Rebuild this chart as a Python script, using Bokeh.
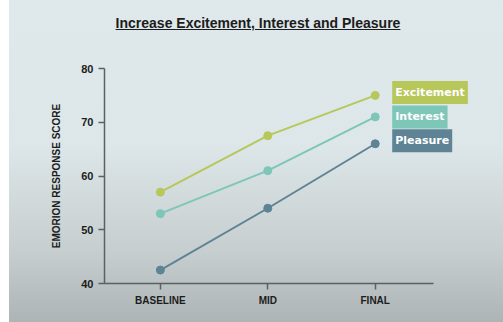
from bokeh.plotting import figure
from bokeh.models import Range1d, FixedTicker, Label, Div
from bokeh.layouts import column
from bokeh.embed import file_html
from bokeh.resources import INLINE

categories = ["BASELINE", "MID", "FINAL"]
excitement = [57.0, 67.5, 75.0]
interest = [53.0, 61.0, 71.0]
pleasure = [42.5, 54.0, 66.0]
series_names = ["Excitement", "Interest", "Pleasure"]
series_colors = ["#b7c75a", "#7dc6b8", "#5e8395"]
y_ticks = [40, 50, 60, 70, 80]

xs = list(range(len(categories)))

title = Div(
    text='<div style="width:503px;height:45px;box-sizing:border-box;margin:0;'
         'font-family:\'Liberation Sans\',Arial,sans-serif;font-weight:bold;'
         'font-size:14px;color:#1c1c1c;text-align:center;text-decoration:underline;'
         'padding-top:15px;padding-left:13px;line-height:16px;">'
         'Increase Excitement, Interest and Pleasure</div>',
    width=503, height=45, styles={"margin": "0", "padding": "0", "overflow": "hidden"},
)

p = figure(width=503, height=277, output_backend="svg", toolbar_location=None,
           x_range=Range1d(-0.52, 2.98), y_range=Range1d(40, 80),
           min_border_left=104, min_border_right=23, min_border_top=23, min_border_bottom=39)
p.border_fill_color = None
p.background_fill_color = None
p.outline_line_color = None
p.xgrid.visible = False
p.ygrid.visible = False

for vals, name, col in zip([excitement, interest, pleasure], series_names, series_colors):
    p.line(xs, vals, line_color=col, line_width=2)
    p.scatter(xs, vals, size=8, fill_color=col, line_color=col)

label_offsets = [3, 0, 3]
for vals, name, col, dy in zip([excitement, interest, pleasure], series_names, series_colors, label_offsets):
    lab = Label(x=xs[-1], y=vals[-1], text=name, x_offset=17, y_offset=dy,
                text_font="DejaVu Sans", text_font_style="bold", text_font_size="11px",
                text_color="white", text_baseline="middle", text_align="left",
                background_fill_color=col, padding=(3, 5))
    p.add_layout(lab)

p.xaxis.ticker = FixedTicker(ticks=xs)
p.xaxis.bounds = (-0.52, 2.54)
p.xaxis.major_label_overrides = {i: c for i, c in enumerate(categories)}
p.yaxis.ticker = FixedTicker(ticks=y_ticks)
p.xaxis.minor_tick_line_color = None
p.yaxis.minor_tick_line_color = None
for ax in (p.xaxis, p.yaxis):
    ax.axis_line_color = "#5a6163"
    ax.axis_line_width = 1.5
    ax.major_tick_line_color = "#5a6163"
    ax.major_tick_line_width = 1.5
    ax.major_tick_in = 0
    ax.major_label_text_font = "Liberation Sans"
    ax.major_label_text_font_style = "bold"
    ax.major_label_text_color = "#1c1c1c"
p.xaxis.major_tick_out = 6
p.yaxis.major_tick_out = 6
p.xaxis.major_label_text_font_size = "10px"
p.yaxis.major_label_text_font_size = "11px"
p.xaxis.major_label_standoff = 5
p.yaxis.major_label_standoff = 5
p.yaxis.axis_label = "EMORION RESPONSE SCORE"
p.yaxis.axis_label_text_font = "Liberation Sans"
p.yaxis.axis_label_text_font_style = "bold"
p.yaxis.axis_label_text_font_size = "10px"
p.yaxis.axis_label_text_color = "#1c1c1c"
p.yaxis.axis_label_standoff = 16

layout = column(title, p, width=503, height=322, spacing=0)
layout.styles = {
    "background": "linear-gradient(to right, #ffffff 9px, rgba(255,255,255,0) 9px), "
                  "linear-gradient(to bottom, #dfe8ea 0%, #dde6e8 45%, #c6cecf 78%, #adb4b5 100%)"
}

open("out.html", "w").write(file_html(layout, INLINE))
